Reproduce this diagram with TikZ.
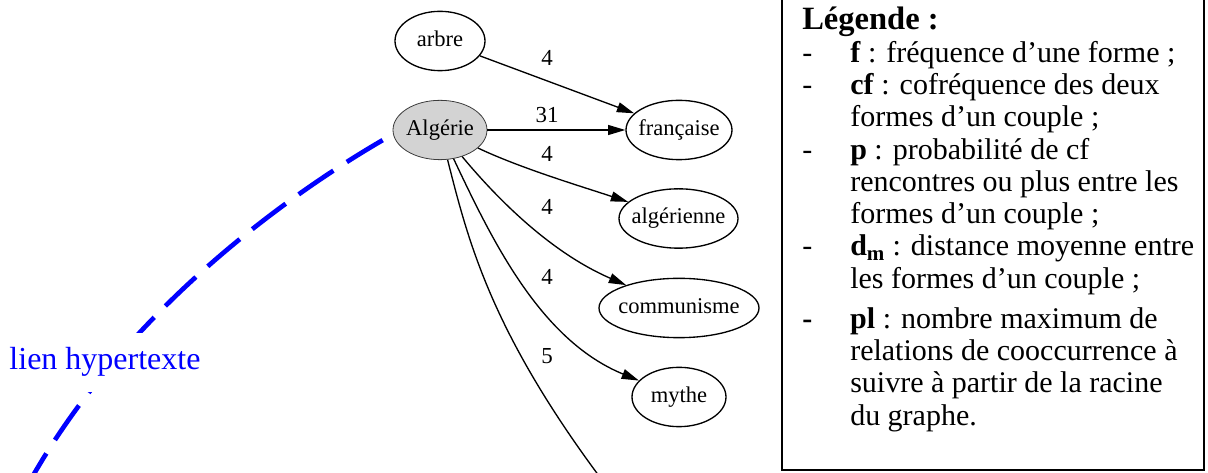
\documentclass[tikz,border=0pt]{standalone}
\usepackage{fontspec}
\setmainfont{Liberation Serif}
\usepackage{tikz}
\usetikzlibrary{shapes}
\usetikzlibrary{arrows.meta}

\tikzset{
  forme/.style={draw, line width=1pt, ellipse, inner xsep=-6pt, inner ysep=0pt, minimum height=44.5pt, text height=11.25pt, text depth=3pt, font=\fontsize{16.9pt}{20pt}\selectfont},
  cooc/.style={line width=1pt, -{Triangle[length=13pt, width=7.5pt]}},
  poids/.style={inner sep=0.75pt, font=\fontsize{17.2pt}{20pt}\selectfont},
  hyper/.style={color={rgb, 255:red, 0; green, 0; blue, 255 }, line width=3.5pt, dash pattern=on 31.5pt off 12pt, shorten <=9pt},
}

\begin{document}
\begin{tikzpicture}[x=0.75pt,y=0.75pt,yscale=-1,xscale=1]
\useasboundingbox (0,0) rectangle (1208,473);

%Shape: Ellipse
\draw (440,41) node [forme, minimum width=67.5pt] (arbre) {arbre};
%Shape: Ellipse
\draw (440,130) node [forme, minimum width=70.5pt, line width=0.6pt, draw={rgb, 255:red, 60; green, 60; blue, 60 }, fill={rgb, 255:red, 211; green, 211; blue, 211 }] (alg) {Algérie};
%Shape: Ellipse
\draw (679,130) node [forme, minimum width=79.5pt] (fr) {française};
%Shape: Ellipse
\draw (678.5,218.5) node [forme, minimum width=89.25pt] (algn) {algérienne};
%Shape: Ellipse
\draw (679,308) node [forme, minimum width=120pt] (comm) {communisme};
%Shape: Ellipse
\draw (679,397) node [forme, minimum width=70.5pt] (mythe) {mythe};
\coordinate (sortie) at (602,480);
\coordinate (bas) at (30,481);

%Straight Lines
\draw [cooc] (arbre) -- (fr) ;
%Straight Lines
\draw [cooc] (alg) -- (fr) ;
%Curve Lines
\draw [cooc] (alg) .. controls (520,168) and (580,186) .. (algn) ;
%Curve Lines
\draw [cooc] (alg) .. controls (490,190) and (545,250) .. (comm) ;
%Curve Lines
\draw [cooc] (alg) .. controls (492,240) and (540,340) .. (mythe) ;
%Curve Lines
\draw [line width=1pt] (alg) .. controls (468,240) and (490,330) .. (sortie) ;

% Text Node
\draw (547,58) node [poids] (p1) {4};
% Text Node
\draw (547,115) node [poids] (p2) {31};
% Text Node
\draw (547,154) node [poids] (p3) {4};
% Text Node
\draw (547,207) node [poids] (p4) {4};
% Text Node
\draw (547,277) node [poids] (p5) {4};
% Text Node
\draw (547,356) node [poids] (p6) {5};

%Curve Lines
\draw [hyper] (alg.185) .. controls (285,197) and (125,312) .. (bas) ;
% Text Node
\draw (105,370) node [anchor=base, fill=white, inner xsep=2pt, inner ysep=11pt, text={rgb, 255:red, 0; green, 0; blue, 255 }, font=\fontsize{24pt}{28pt}\selectfont] (lien) {lien hypertexte};

%Shape: Rectangle
\draw [line width=1.4pt] (782,-10) rectangle (1204,470) ;
% Text Node
\draw (802,30) node [anchor=base west, inner sep=0pt, font=\fontsize{22.5pt}{24.2pt}\selectfont] (legende) {\begin{tabular}[t]{@{}p{36pt}@{}l@{}}
\multicolumn{2}{@{}l@{}}{\fontsize{24.4pt}{24.2pt}\selectfont\bfseries Légende :}\\
- & \textbf{f} : fréquence d’une forme ;\\
- & \textbf{cf} : cofréquence des deux\\
  & formes d’un couple ;\\
- & \textbf{p} : probabilité de cf\\
  & rencontres ou plus entre les\\
  & formes d’un couple ;\\
- & \textbf{d\textsubscript{m}} : distance moyenne entre\\
  & les formes d’un couple ;\\[6pt]
\textbf{-} & \textbf{pl} : nombre maximum de\\
  & relations de cooccurrence à\\
  & suivre à partir de la racine\\
  & du graphe.
\end{tabular}};

\end{tikzpicture}
\end{document}
